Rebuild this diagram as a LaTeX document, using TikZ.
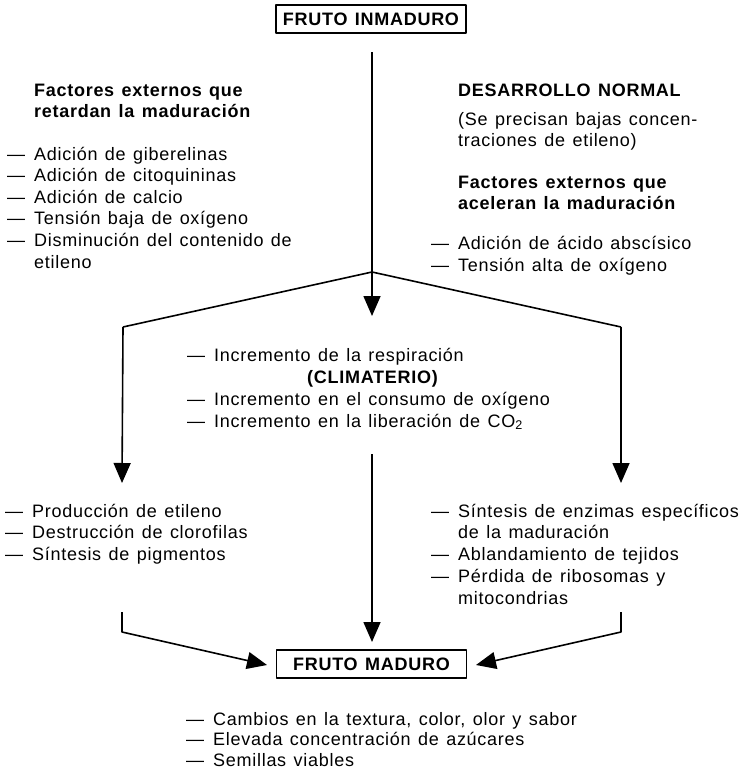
\documentclass[tikz,border=0pt]{standalone}
\usepackage{fontspec}
\setmainfont{Liberation Sans}[LetterSpace=4,WordSpace=1.3]
\usetikzlibrary{arrows.meta}
\newcommand{\guion}{\makebox[27pt][l]{—}}
\newcommand{\sangria}{\hspace*{27pt}}
\tikzset{
  caja/.style={draw,line width=1.5pt,minimum width=190pt,minimum height=28pt,inner sep=0pt,font=\bfseries\fontsize{18}{22}\selectfont},
  texto/.style={anchor=base west,align=left,inner sep=0pt,font=\fontsize{18}{#1}\selectfont},
  texto/.default=22,
  titulo/.style={anchor=base west,align=left,inner sep=0pt,font=\bfseries\fontsize{18}{21}\selectfont},
  linea/.style={line width=1.6pt},
  flecha/.style={linea,-{Triangle[length=20pt,width=17pt]}}
}
\begin{document}
\begin{tikzpicture}[x=1pt,y=-1pt,line join=round]
  \useasboundingbox (0,0) rectangle (739,771);
  \node[caja] (inmaduro) at (371,19) {FRUTO INMADURO};
  \node[caja] (maduro) at (371.5,664) {FRUTO MADURO};
  \coordinate (CA) at (372,52);
  \coordinate (VX) at (372,272);
  \coordinate (PC) at (372,316);
  \coordinate (EI) at (123,327);
  \coordinate (ED) at (621,327);
  \coordinate (PI) at (122,483);
  \coordinate (PD) at (621,483);
  \coordinate (CB) at (372,454);
  \coordinate (PM) at (372,642);
  \coordinate (BI0) at (122,612);
  \coordinate (BI1) at (122,632);
  \coordinate (BI2) at (267,665);
  \coordinate (BD0) at (621,612);
  \coordinate (BD1) at (621,632);
  \coordinate (BD2) at (476,665);
  \draw[flecha] (CA) -- (PC);
  \draw[linea] (VX) -- (EI);
  \draw[linea] (VX) -- (ED);
  \draw[flecha] (EI) -- (PI);
  \draw[flecha] (ED) -- (PD);
  \draw[flecha] (CB) -- (PM);
  \draw[flecha] (BI0) -- (BI1) -- (BI2);
  \draw[flecha] (BD0) -- (BD1) -- (BD2);
  \node[titulo] (retardan) at (34,117) {Factores externos que\\retardan la maduración};
  \node[texto=21.6] (retardanLista) at (7,268) {\guion Adición de giberelinas\\\guion Adición de citoquininas\\\guion Adición de calcio\\\guion Tensión baja de oxígeno\\\guion Disminución del contenido de\\\sangria etileno};
  \node[titulo] (normal) at (458,96) {DESARROLLO NORMAL};
  \node[texto=21] (normalNota) at (458,146) {(Se precisan bajas concen-\\traciones de etileno)};
  \node[titulo] (aceleran) at (458,209) {Factores externos que\\aceleran la maduración};
  \node[texto=22] (aceleranLista) at (431,271) {\guion Adición de ácido abscísico\\\guion Tensión alta de oxígeno};
  \node[texto=22] (climaterio) at (187,427) {\guion Incremento de la respiración\\\hspace*{120pt}\textbf{(CLIMATERIO)}\\\guion Incremento en el consumo de oxígeno\\\guion Incremento en la liberación de CO\textsubscript{2}};
  \node[texto=21.5] (izqLista) at (5,560) {\guion Producción de etileno\\\guion Destrucción de clorofilas\\\guion Síntesis de pigmentos};
  \node[texto=21.75] (derLista) at (431,604) {\guion Síntesis de enzimas específicos\\\sangria de la maduración\\\guion Ablandamiento de tejidos\\\guion Pérdida de ribosomas y\\\sangria mitocondrias};
  \node[texto=20.5] (maduroLista) at (186,766) {\guion Cambios en la textura, color, olor y sabor\\\guion Elevada concentración de azúcares\\\guion Semillas viables};
\end{tikzpicture}
\end{document}
